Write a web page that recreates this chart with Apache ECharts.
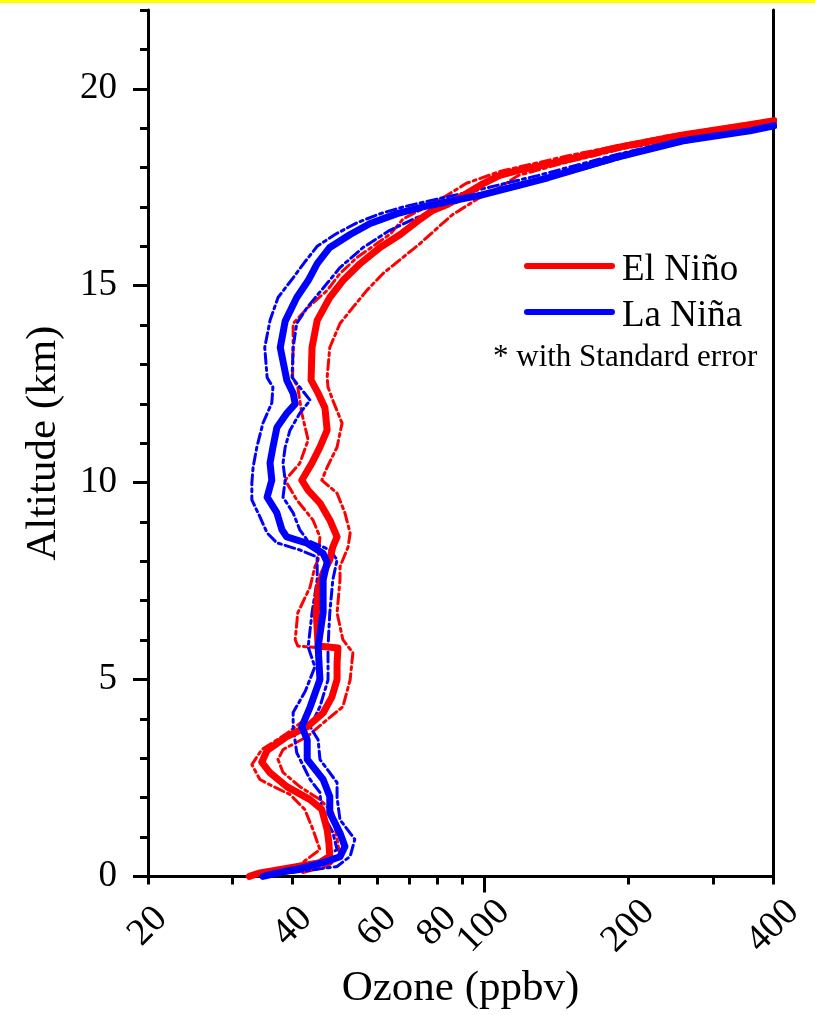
<!DOCTYPE html>
<html><head><meta charset="utf-8">
<script src="https://cdn.jsdelivr.net/npm/echarts@6/dist/echarts.min.js"></script>
<style>
html,body{margin:0;padding:0;background:#fff;}
#chart{position:absolute;left:0;top:0;width:815px;height:1015px;}
#bar{position:absolute;left:0;top:0;width:815px;height:3px;background:#ffff00;}
</style></head><body>
<div id="chart"></div><div id="bar"></div>
<script>
// [altitude km, ozone ppbv]
const elNinoMean = [[0.0,32.5],[0.08,34],[0.18,38],[0.35,45.6],[0.51,47.8],[0.85,47.6],[1.19,47.2],[1.7,46.0],[1.95,43.5],[2.28,38.9],[2.63,35.9],[2.9,34.5],[3.2,35.4],[3.55,38.9],[3.8,42.9],[4.15,46.3],[4.56,48.3],[5.0,49.5],[5.4,49.5],[5.8,49.7],[5.85,45.2],[6.7,44.8],[7.3,45.2],[7.7,46.3],[8.04,47.8],[8.37,48.5],[8.62,49.5],[9.05,47.8],[9.48,45.6],[9.8,43.1],[10.06,41.8],[10.5,43.9],[10.9,45.6],[11.33,47.2],[11.9,46.7],[12.27,45.2],[12.6,43.7],[13.43,43.9],[14.12,45.0],[14.7,47.8],[15.13,50.9],[15.56,55.3],[15.97,60.8],[16.3,67],[16.65,73],[16.9,78],[17.06,84],[17.3,91],[17.57,99],[17.8,108],[17.95,120],[18.1,138],[18.5,188],[18.83,260],[19.09,358],[19.19,402]];
const elNinoLower = [[0.03,32.6],[0.15,36],[0.3,41.4],[0.68,45.6],[1.19,44.1],[1.7,42.4],[2.08,39.5],[2.28,36.5],[2.46,34.2],[2.84,32.9],[3.22,34.5],[3.6,38.6],[3.98,42.4],[4.49,44.5],[5.32,45.6],[5.8,45.8],[5.85,41.0],[6.01,40.5],[6.69,41.0],[7.35,43.5],[7.86,44.5],[8.04,45.2],[8.62,45.6],[9.05,44.1],[9.56,40.8],[10.06,38.6],[10.49,41.4],[11.08,43.1],[11.76,41.8],[12.42,41.0],[12.67,40.0],[13.43,40.1],[14.04,40.1],[14.45,43.1],[14.88,47.2],[15.31,50.2],[15.72,54.5],[16.07,59.9],[16.32,64],[16.7,68],[17.0,76],[17.3,84],[17.6,92],[17.9,108],[18.3,150],[18.8,240],[19.2,390]];
const elNinoUpper = [[0.1,42],[0.25,47.2],[0.51,50.2],[0.94,49.5],[1.62,48.5],[1.95,45.6],[2.28,41.4],[2.64,38.2],[2.97,37.3],[3.22,38.2],[3.55,42.9],[3.98,47.2],[4.31,50.9],[4.99,52.7],[5.68,53.4],[6.01,50.9],[6.69,49.5],[7.53,50.2],[7.86,50.2],[8.37,52.2],[8.72,52.7],[9.23,51.4],[9.73,49.5],[10.06,46.0],[10.39,47.2],[10.9,49.5],[11.51,50.7],[12.09,48.5],[12.42,47.4],[12.67,47.2],[13.43,47.8],[14.04,50.2],[14.45,53.4],[14.88,57.1],[15.31,61.7],[15.72,67.9],[16.07,73.7],[16.4,79],[16.8,86],[17.2,97],[17.5,108],[17.8,118],[18.1,145],[18.5,198],[19.0,380],[19.15,415]];
const laNinaMean = [[0.0,34.7],[0.08,37],[0.18,40.8],[0.35,46.3],[0.5,50.2],[0.76,51.4],[1.1,50.2],[1.62,47.8],[2.03,47.8],[2.46,46.3],[2.97,42.9],[3.47,42.9],[3.8,41.8],[4.3,43.5],[5.0,45.6],[5.83,45.2],[6.7,46.3],[7.53,46.3],[7.98,47.2],[8.2,46.3],[8.46,42.9],[8.62,38.9],[8.8,38.0],[9.23,37.1],[9.63,35.4],[10.06,36.2],[10.5,35.9],[10.9,36.4],[11.4,37.1],[11.76,38.9],[12.0,40.5],[12.27,40.1],[12.6,38.9],[13.43,37.7],[14.1,38.6],[14.7,40.8],[15.13,43.1],[15.56,45.0],[15.97,47.8],[16.3,52.7],[16.58,58.0],[16.83,66.0],[17.0,74.7],[17.13,83.9],[17.3,98.7],[17.74,136],[18.25,188],[18.68,260],[18.93,358],[19.06,402]];
const laNinaLower = [[0.05,33.5],[0.2,38],[0.35,44.8],[0.68,49.5],[1.12,48.5],[1.62,46.0],[2.13,45.6],[2.46,43.5],[3.14,40.8],[3.8,40.1],[4.16,40.1],[4.7,42.5],[5.32,44.5],[5.83,43.1],[6.69,43.9],[7.53,45.0],[8.11,45.0],[8.29,41.4],[8.47,37.1],[8.72,35.4],[9.13,34.2],[9.56,32.9],[9.99,32.9],[10.39,33.1],[10.9,33.7],[11.51,34.7],[12.02,36.2],[12.42,36.4],[12.67,35.4],[13.43,35.0],[14.12,35.9],[14.7,37.3],[15.2,40.1],[15.6,42.4],[16.0,45.0],[16.3,49.0],[16.6,54.5],[16.83,61],[17.0,68],[17.2,80],[17.4,95],[17.8,130],[18.3,185],[18.7,255],[19.0,360],[19.1,410]];
const laNinaUpper = [[0.1,40],[0.25,49.5],[0.51,52.7],[0.94,53.9],[1.44,50.2],[2.0,49.5],[2.38,49.5],[2.97,45.6],[3.47,45.2],[3.8,43.5],[4.31,45.6],[4.99,47.4],[5.83,47.4],[6.69,47.8],[7.53,48.5],[8.04,49.5],[8.29,47.8],[8.54,42.9],[8.8,41.4],[9.23,40.1],[9.63,38.2],[10.06,38.6],[10.49,38.2],[10.9,38.6],[11.33,39.5],[11.76,41.4],[12.09,43.5],[12.42,41.4],[12.67,39.9],[13.43,40.1],[14.04,40.8],[14.45,42.9],[15.06,47.2],[15.46,50.2],[15.97,56.1],[16.4,63.6],[16.73,72.6],[17.0,82],[17.2,92],[17.5,118],[18.0,165],[18.5,230],[18.9,335],[19.1,410]];

const xTickValues = [20,30,40,50,60,70,80,90,100,200,300,400];
const xLabelValues = [20,40,60,80,100,200,400];
const xMajorTickValues = [100];
const yLabelValues = [0,5,10,15,20];
const yMinorTickValues = [0,1,2,3,4,5,6,7,8,9,10,11,12,13,14,15,16,17,18,19,20,21,22];

const FONT = '"Liberation Serif","Times New Roman",serif';
const RED = '#ff0000', BLUE = '#0000ff';
const DASHDOT = [10,4,3,4];

function toXY(p){ return p.map(d => [d[1], d[0]]); }
function lineSeries(name, data, color, width, type){
  return {type:'line', name, data: toXY(data), showSymbol:false, symbol:'none',
    lineStyle:{color, width, type, cap:'round', join:'round'}, z: width > 4 ? 3 : 2};
}
const axisLine = {show:true, lineStyle:{color:'#000', width:3}};
const tickStyle = {color:'#000', width:3};

const chart = echarts.init(document.getElementById('chart'), null, {renderer:'canvas'});
chart.setOption({
  animation:false,
  backgroundColor:'#fff',
  grid:{left:148, right:42, top:10, bottom:138},
  xAxis:[
    {type:'log', logBase:10, min:20, max:400, position:'bottom',
     axisLine, axisTick:{show:true, customValues:xTickValues, length:8, lineStyle:tickStyle},
     minorTick:{show:false}, splitLine:{show:false},
     axisLabel:{customValues:xLabelValues, rotate:45, align:'center', verticalAlign:'middle', margin:50,
       fontSize:38, fontFamily:FONT, color:'#000'},
     name:'Ozone (ppbv)', nameLocation:'middle', nameGap:89,
     nameTextStyle:{fontSize:43, fontFamily:FONT, color:'#000'}},
    {type:'log', logBase:10, min:20, max:400, position:'bottom',
     axisLine:{show:false}, axisTick:{show:true, customValues:xMajorTickValues, length:16, lineStyle:tickStyle},
     axisLabel:{show:false}, splitLine:{show:false}},
    {type:'log', logBase:10, min:20, max:400, position:'top',
     axisLine, axisTick:{show:false}, axisLabel:{show:false}, splitLine:{show:false}}
  ],
  yAxis:[
    {type:'value', min:0, max:22, position:'left',
     axisLine, axisTick:{show:true, customValues:yLabelValues, length:15, lineStyle:tickStyle},
     axisLabel:{customValues:yLabelValues, margin:31, fontSize:37, fontFamily:FONT, color:'#000'},
     splitLine:{show:false},
     name:'Altitude (km)', nameLocation:'middle', nameGap:83,
     nameTextStyle:{fontSize:43, fontFamily:FONT, color:'#000'}},
    {type:'value', min:0, max:22, position:'left',
     axisLine:{show:false}, axisTick:{show:true, customValues:yMinorTickValues, length:8, lineStyle:tickStyle},
     axisLabel:{show:false}, splitLine:{show:false}},
    {type:'value', min:0, max:22, position:'right',
     axisLine, axisTick:{show:false}, axisLabel:{show:false}, splitLine:{show:false}}
  ],
  series:[
    lineSeries('El Niño lower', elNinoLower, RED, 3, DASHDOT),
    lineSeries('El Niño upper', elNinoUpper, RED, 3, DASHDOT),
    lineSeries('La Niña lower', laNinaLower, BLUE, 3, DASHDOT),
    lineSeries('La Niña upper', laNinaUpper, BLUE, 3, DASHDOT),
    lineSeries('El Niño', elNinoMean, RED, 7, 'solid'),
    lineSeries('La Niña', laNinaMean, BLUE, 7, 'solid')
  ],
  graphic:[
    {type:'line', shape:{x1:527, y1:266, x2:612, y2:266}, style:{stroke:RED, lineWidth:6, lineCap:'round'}},
    {type:'line', shape:{x1:527, y1:312, x2:612, y2:312}, style:{stroke:BLUE, lineWidth:6, lineCap:'round'}},
    {type:'text', x:622, y:270, style:{text:'El Niño', fontSize:37, fontFamily:FONT, fill:'#000', verticalAlign:'middle'}},
    {type:'text', x:622, y:316, style:{text:'La Niña', fontSize:37, fontFamily:FONT, fill:'#000', verticalAlign:'middle'}},
    {type:'text', x:493, y:358, style:{text:'* with Standard error', fontSize:31, fontFamily:FONT, fill:'#000', verticalAlign:'middle'}}
  ]
});
</script></body></html>
